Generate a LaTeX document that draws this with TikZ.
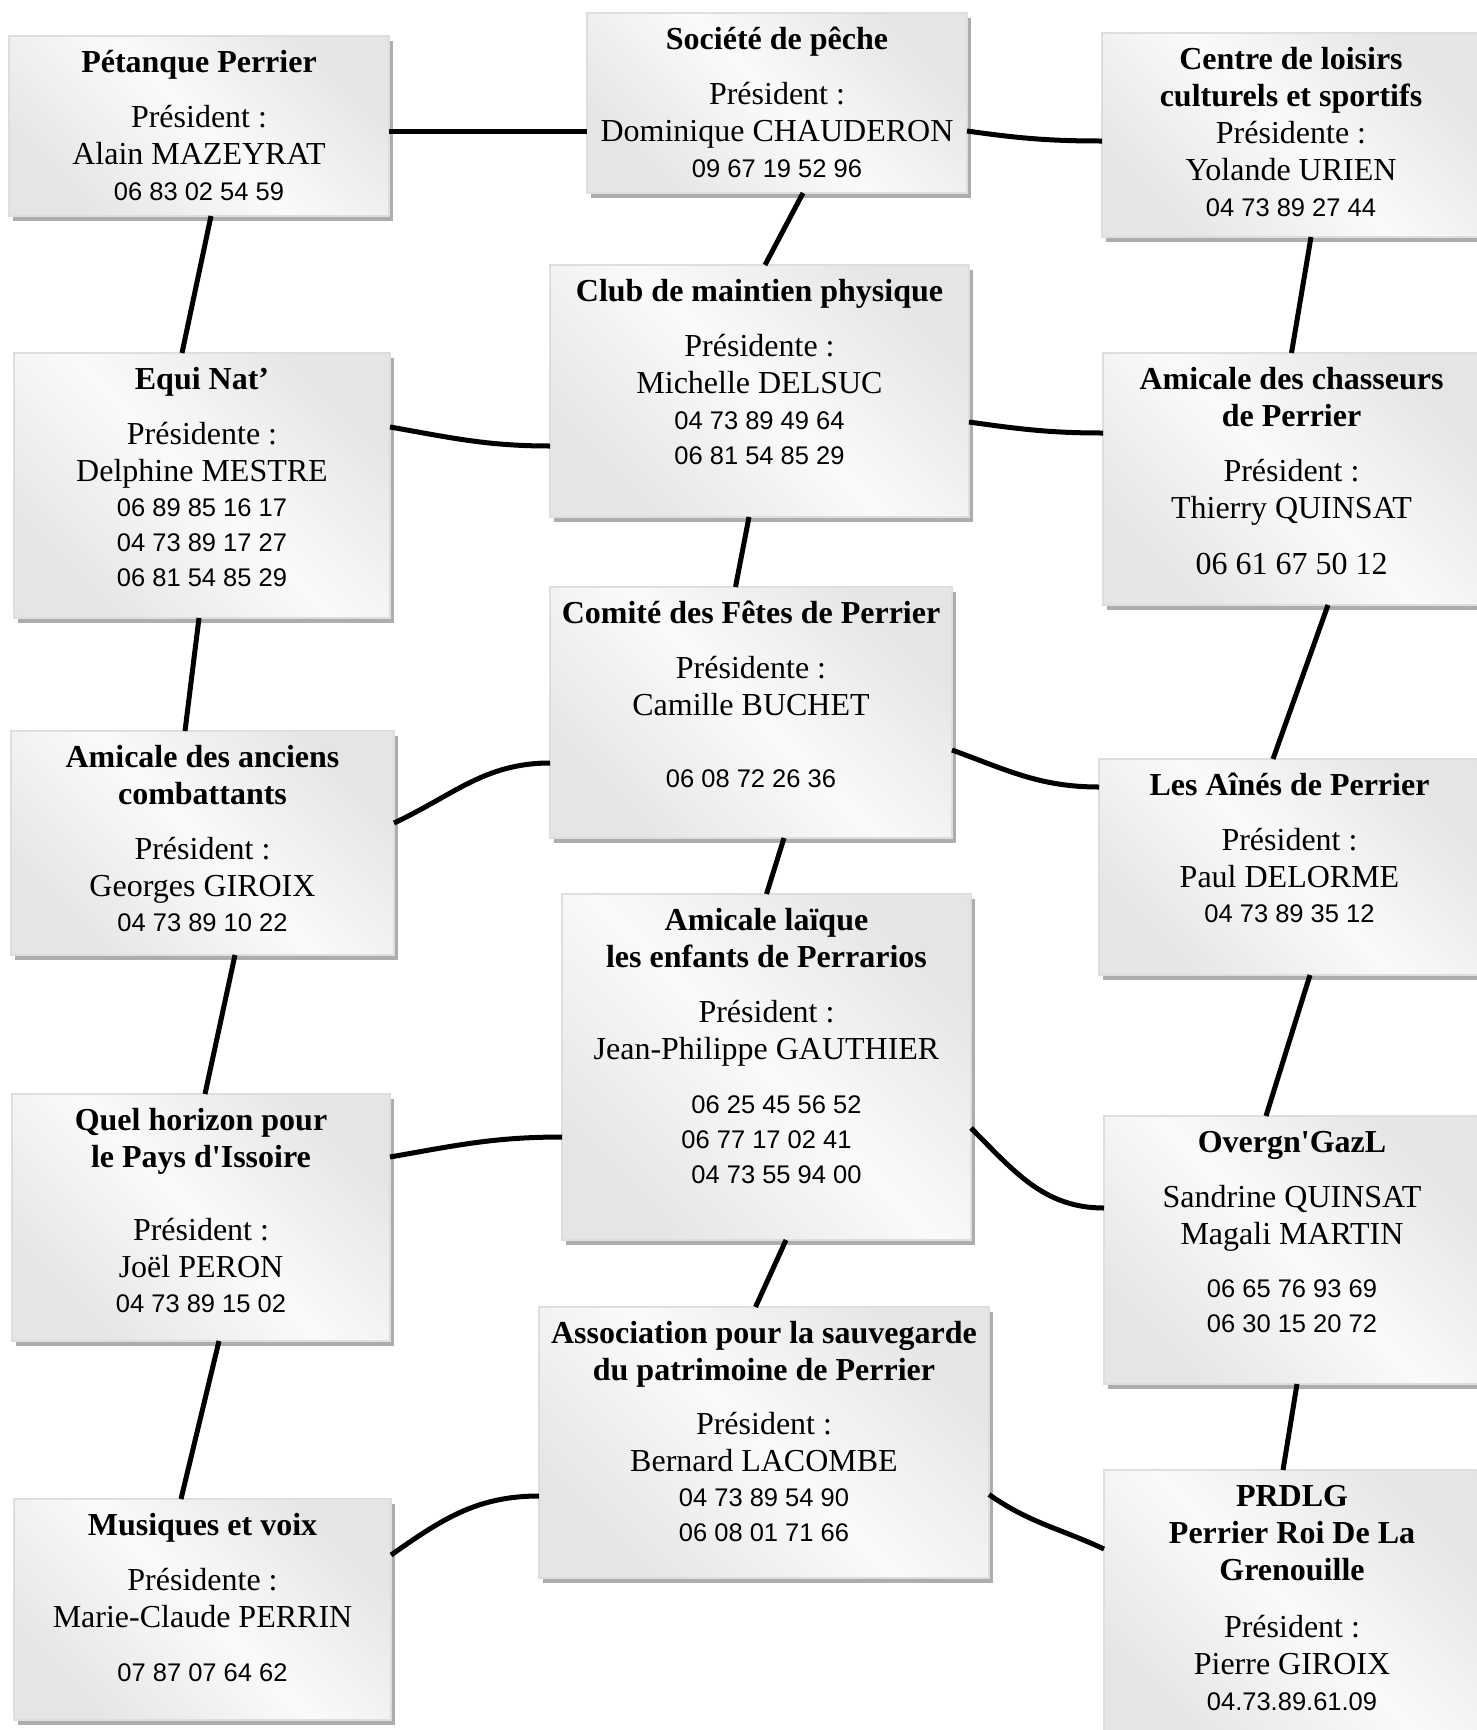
\documentclass[tikz,border=0pt]{standalone}
\usepackage{fontspec}
\setmainfont{Liberation Serif}
\newfontfamily\telfont{Liberation Sans}
\usetikzlibrary{shadows}

\pgfdeclarehorizontalshading{reflet}{100bp}{color(0bp)=(black!11); color(25bp)=(black!10); color(50bp)=(black!2); color(75bp)=(black!10); color(100bp)=(black!11)}

\newcommand{\titre}[1]{\rule{0pt}{30pt}\textbf{#1}}
\newcommand{\tel}[1]{{\telfont\fontsize{25.5}{37}\selectfont #1}}

\begin{document}
\begin{tikzpicture}[x=1pt,y=-1pt,
  boite/.style={anchor=north west,inner sep=0pt,outer sep=0pt,draw=black!13,line width=1.2pt,
    shading=reflet,shading angle=45,
    drop shadow={shadow xshift=4pt,shadow yshift=-5pt,fill=black!32,opacity=1}},
  texte/.style={anchor=north,align=center,inner sep=0pt,font=\fontsize{32}{37}\selectfont},
  lien/.style={line width=5pt}]
\useasboundingbox (0,0) rectangle (1477,1730);
\clip (0,0) rectangle (1477,1730);

\node[boite,minimum width=380pt,minimum height=180pt] (petanque) at (9,36) {};
\node[boite,minimum width=380pt,minimum height=180pt] (societe) at (587,13) {};
\node[boite,minimum width=378pt,minimum height=204pt] (centre) at (1102,33) {};
\node[boite,minimum width=376pt,minimum height=265pt] (equi) at (14,353) {};
\node[boite,minimum width=419pt,minimum height=252pt] (club) at (550,265) {};
\node[boite,minimum width=377pt,minimum height=252pt] (chasseurs) at (1103,353) {};
\node[boite,minimum width=383pt,minimum height=224pt] (anciens) at (11,731) {};
\node[boite,minimum width=402pt,minimum height=251pt] (comite) at (550,587) {};
\node[boite,minimum width=381pt,minimum height=216pt] (aines) at (1099,759) {};
\node[boite,minimum width=409pt,minimum height=346pt] (laique) at (562,894) {};
\node[boite,minimum width=378pt,minimum height=247pt] (quel) at (12,1094) {};
\node[boite,minimum width=376pt,minimum height=268pt] (overgn) at (1104,1116) {};
\node[boite,minimum width=450pt,minimum height=271pt] (assoc) at (539,1307) {};
\node[boite,minimum width=377pt,minimum height=221pt] (musiques) at (14,1499) {};
\node[boite,minimum width=376pt,minimum height=275pt] (prdlg) at (1104,1470) {};

\node[texte] (petanque-t) at ([yshift=-6.5pt]petanque.north) {\titre{Pétanque Perrier}\\[18pt]Président :\\Alain MAZEYRAT\\[-1pt]\tel{06 83 02 54 59}};
\node[texte] (societe-t) at ([yshift=-6.5pt]societe.north) {\titre{Société de pêche}\\[18pt]Président :\\Dominique CHAUDERON\\[-1pt]\tel{09 67 19 52 96}};
\node[texte] (centre-t) at ([yshift=-6.5pt]centre.north) {\titre{Centre de loisirs}\\\textbf{culturels et sportifs}\\Présidente :\\Yolande URIEN\\[-1pt]\tel{04 73 89 27 44}};
\node[texte] (equi-t) at ([yshift=-6.5pt]equi.north) {\titre{Equi Nat’}\\[18pt]Présidente :\\Delphine MESTRE\\[-2pt]\tel{06 89 85 16 17}\\[-2pt]\tel{04 73 89 17 27}\\[-2pt]\tel{06 81 54 85 29}};
\node[texte] (club-t) at ([yshift=-6.5pt]club.north) {\titre{Club de maintien physique}\\[18pt]Présidente :\\Michelle DELSUC\\[-1pt]\tel{04 73 89 49 64}\\[-2pt]\tel{06 81 54 85 29}};
\node[texte] (chasseurs-t) at ([yshift=-6.5pt]chasseurs.north) {\titre{Amicale des chasseurs}\\\textbf{de Perrier}\\[18pt]Président :\\Thierry QUINSAT\\[19pt]06 61 67 50 12};
\node[texte] (anciens-t) at ([yshift=-6.5pt]anciens.north) {\titre{Amicale des anciens}\\\textbf{combattants}\\[18pt]Président :\\Georges GIROIX\\[-2pt]\tel{04 73 89 10 22}};
\node[texte] (comite-t) at ([yshift=-6.5pt]comite.north) {\titre{Comité des Fêtes de Perrier}\\[18pt]Présidente :\\Camille BUCHET\\[35pt]\tel{06 08 72 26 36}};
\node[texte] (aines-t) at ([yshift=-6.5pt]aines.north) {\titre{Les Aînés de Perrier}\\[18pt]Président :\\Paul DELORME\\[-2pt]\tel{04 73 89 35 12}};
\node[texte] (laique-t) at ([yshift=-6.5pt]laique.north) {\titre{Amicale laïque}\\\textbf{les enfants de Perrarios}\\[18pt]Président :\\Jean-Philippe GAUTHIER\\[17pt]\hspace*{20pt}\tel{06 25 45 56 52}\\[-2pt]\tel{06 77 17 02 41}\\[-2pt]\hspace*{20pt}\tel{04 73 55 94 00}};
\node[texte] (quel-t) at ([yshift=-6.5pt]quel.north) {\titre{Quel horizon pour}\\\textbf{le Pays d\textquotesingle Issoire}\\[36pt]Président :\\Joël PERON\\[-2pt]\tel{04 73 89 15 02}};
\node[texte] (overgn-t) at ([yshift=-6.5pt]overgn.north) {\titre{Overgn\textquotesingle GazL}\\[18pt]Sandrine QUINSAT\\Magali MARTIN\\[16pt]\tel{06 65 76 93 69}\\[-2pt]\tel{06 30 15 20 72}};
\node[texte] (assoc-t) at ([yshift=-6.5pt]assoc.north) {\titre{Association pour la sauvegarde}\\\textbf{du patrimoine de Perrier}\\[17pt]Président :\\Bernard LACOMBE\\[-2pt]\tel{04 73 89 54 90}\\[-2pt]\tel{06 08 01 71 66}};
\node[texte] (musiques-t) at ([yshift=-6.5pt]musiques.north) {\titre{Musiques et voix}\\[18pt]Présidente :\\Marie-Claude PERRIN\\[17pt]\tel{07 87 07 64 62}};
\node[texte] (prdlg-t) at ([yshift=-6.5pt]prdlg.north) {\titre{PRDLG}\\\textbf{Perrier Roi De La}\\\textbf{Grenouille}\\[20pt]Président :\\Pierre GIROIX\\[-1pt]\tel{04.73.89.61.09}};

\draw[lien] ([yshift=-5pt]petanque.east) -- ([yshift=-28pt]societe.west);
\draw[lien] ([yshift=-28pt]societe.east) to[out=-8,in=180] ([yshift=-6pt]centre.west);
\draw[lien] ([xshift=26pt]societe.south) -- ([xshift=5.5pt]club.north);
\draw[lien] ([xshift=12pt]petanque.south) -- ([xshift=-20pt]equi.north);
\draw[lien] ([yshift=58.5pt]equi.east) to[out=-10,in=180] ([yshift=-55pt]club.west);
\draw[lien] ([yshift=-31pt]club.east) to[out=-8,in=180] ([yshift=46pt]chasseurs.west);
\draw[lien] ([xshift=20pt]centre.south) -- (chasseurs.north);
\draw[lien] ([xshift=-10.5pt]club.south) -- ([xshift=-15.5pt]comite.north);
\draw[lien] ([xshift=-3pt]equi.south) -- ([xshift=-17.5pt]anciens.north);
\draw[lien] ([xshift=36.5pt]chasseurs.south) -- ([xshift=-16.5pt]aines.north);
\draw[lien] ([yshift=20pt]anciens.east) to[out=25,in=180] ([yshift=-50.5pt]comite.west);
\draw[lien] ([yshift=-37.5pt]comite.east) to[out=-20,in=180] ([yshift=80pt]aines.west);
\draw[lien] ([xshift=33pt]comite.south) -- (laique.north);
\draw[lien] ([xshift=32.5pt]anciens.south) -- ([xshift=4pt]quel.north);
\draw[lien] ([xshift=20.5pt]aines.south) -- ([xshift=-26pt]overgn.north);
\draw[lien] ([yshift=60.5pt]quel.east) to[out=10,in=180] ([yshift=-70pt]laique.west);
\draw[lien] ([yshift=-61pt]laique.east) to[out=-45,in=180] ([yshift=42pt]overgn.west);
\draw[lien] ([xshift=19.5pt]laique.south) -- ([xshift=-8.5pt]assoc.north);
\draw[lien] ([xshift=5pt]overgn.south) -- ([xshift=-9pt]prdlg.north);
\draw[lien] ([xshift=18pt]quel.south) -- ([xshift=-21.5pt]musiques.north);
\draw[lien] ([yshift=54.5pt]musiques.east) to[out=35,in=180] ([yshift=-53.5pt]assoc.west);
\draw[lien] ([yshift=-52pt]assoc.east) to[out=-35,in=155] ([yshift=58.5pt]prdlg.west);
\end{tikzpicture}
\end{document}
